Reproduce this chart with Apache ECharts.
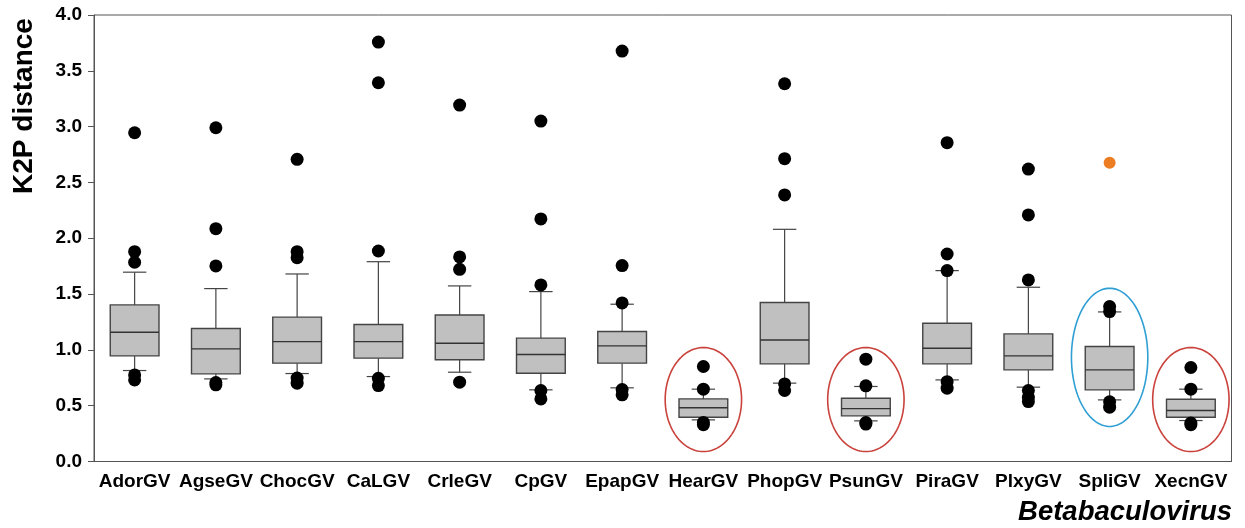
<!DOCTYPE html>
<html>
<head>
<meta charset="utf-8">
<script src="https://cdn.jsdelivr.net/npm/echarts@6/dist/echarts.min.js"></script>
<style>html,body{margin:0;padding:0;background:#fff}#c{width:1245px;height:528px}</style>
</head>
<body>
<div id="c"></div>
<script>
const categories = ['AdorGV','AgseGV','ChocGV','CaLGV','CrleGV','CpGV','EpapGV','HearGV','PhopGV','PsunGV','PiraGV','PlxyGV','SpliGV','XecnGV'];
const whiskerLow  = [0.815,0.740,0.788,0.761,0.800,0.642,0.660,0.373,0.702,0.364,0.731,0.666,0.552,0.367];
const q1          = [0.946,0.785,0.881,0.926,0.911,0.791,0.881,0.397,0.875,0.409,0.875,0.821,0.642,0.397];
const median      = [1.158,1.009,1.074,1.074,1.060,0.958,1.036,0.481,1.089,0.474,1.015,0.946,0.821,0.457];
const q3          = [1.403,1.191,1.293,1.227,1.313,1.105,1.164,0.561,1.424,0.567,1.239,1.143,1.030,0.558];
const whiskerHigh = [1.696,1.549,1.680,1.790,1.573,1.522,1.409,0.648,2.080,0.672,1.710,1.561,1.340,0.648];
const outliers = [
  [2.945,1.880,1.785,0.776,0.731],
  [2.990,2.086,1.752,0.707,0.687],
  [2.707,1.880,1.826,0.747,0.702],
  [3.757,3.393,1.886,0.745,0.680],
  [3.193,1.833,1.722,0.711],
  [3.050,2.173,1.582,0.635,0.561],
  [3.677,1.755,1.421,0.645,0.597],
  [0.851,0.648,0.350,0.329],
  [3.384,2.713,2.388,0.695,0.636],
  [0.917,0.678,0.349,0.335],
  [2.856,1.859,1.710,0.715,0.657],
  [2.620,2.209,1.627,0.636,0.575,0.537],
  [1.388,1.343,0.535,0.487],
  [0.842,0.648,0.344,0.330]
];
const highlightCategory = ['SpliGV'];
const highlightValue = [2.677];
const yTicks = ['0.0','0.5','1.0','1.5','2.0','2.5','3.0','3.5','4.0'];
// ellipse annotations: category, centre value, half-height (value units), half-width (category units), colour
const ellipseCats = ['HearGV','PsunGV','SpliGV','XecnGV'];
const ellipseCenter = [0.555,0.555,0.933,0.555];
const ellipseHalfH = [0.466,0.466,0.619,0.466];
const ellipseHalfW = [0.47,0.47,0.47,0.47];
const ellipseColor = ['#c9423c','#c9423c','#2f9fd4','#c9423c'];

const FONT = "'Liberation Sans', Arial, sans-serif";

const boxData = categories.map((c,i)=>[i, whiskerLow[i], q1[i], median[i], q3[i], whiskerHigh[i]]);
const outData = [];
categories.forEach((c,i)=>outliers[i].forEach(v=>outData.push([c,v])));
const hiData = highlightCategory.map((c,i)=>[c, highlightValue[i]]);
const ellData = ellipseCats.map((c,i)=>[categories.indexOf(c), ellipseCenter[i], ellipseHalfH[i], ellipseHalfW[i], i]);

const chart = echarts.init(document.getElementById('c'));
chart.setOption({
  animation:false,
  backgroundColor:'#fff',
  grid:{left:94,right:13.5,top:15,bottom:66.5,show:true,borderColor:'#555',borderWidth:1,backgroundColor:'transparent'},
  title:{text:'Betabaculovirus',right:8,bottom:-3,textStyle:{fontFamily:FONT,fontSize:27.5,fontWeight:'bold',fontStyle:'italic',color:'#000'}},
  graphic:[{type:'text',x:24,y:106,rotation:Math.PI/2,
    style:{text:'K2P distance',fontFamily:FONT,fontSize:28,fontWeight:'bold',fill:'#000',align:'center',verticalAlign:'middle'}}],
  xAxis:{type:'category',data:categories,boundaryGap:true,
    axisLine:{lineStyle:{color:'#555',width:1}},
    axisTick:{alignWithLabel:true,length:6,lineStyle:{color:'#555'}},
    axisLabel:{interval:0,fontFamily:FONT,fontSize:19,fontWeight:'bold',color:'#000',margin:11},
    splitLine:{show:false}},
  yAxis:{type:'value',min:0,max:4,interval:0.5,
    axisLine:{show:true,lineStyle:{color:'#555',width:1}},
    axisTick:{show:true,length:6,lineStyle:{color:'#555'}},
    axisLabel:{fontFamily:FONT,fontSize:19,fontWeight:'bold',color:'#000',margin:12,
      formatter:(v)=>yTicks[Math.round(v/0.5)]},
    splitLine:{show:false}},
  series:[
    {type:'custom',name:'box',data:boxData,z:2,
      renderItem:(params,api)=>{
        const x=api.value(0);
        const bw=api.size([1,0])[0]*0.6;
        const cw=bw*0.48;
        const pLo=api.coord([x,api.value(1)]);
        const p1=api.coord([x,api.value(2)]);
        const pm=api.coord([x,api.value(3)]);
        const p3=api.coord([x,api.value(4)]);
        const pHi=api.coord([x,api.value(5)]);
        const cx=pm[0];
        const ls={stroke:'#444',lineWidth:1.2};
        return {type:'group',children:[
          {type:'line',shape:{x1:cx,y1:pHi[1],x2:cx,y2:p3[1]},style:ls},
          {type:'line',shape:{x1:cx,y1:p1[1],x2:cx,y2:pLo[1]},style:ls},
          {type:'line',shape:{x1:cx-cw/2,y1:pHi[1],x2:cx+cw/2,y2:pHi[1]},style:ls},
          {type:'line',shape:{x1:cx-cw/2,y1:pLo[1],x2:cx+cw/2,y2:pLo[1]},style:ls},
          {type:'rect',shape:{x:cx-bw/2,y:p3[1],width:bw,height:p1[1]-p3[1]},style:{fill:'#c0c0c0',stroke:'#444',lineWidth:1.4}},
          {type:'line',shape:{x1:cx-bw/2,y1:pm[1],x2:cx+bw/2,y2:pm[1]},style:{stroke:'#333',lineWidth:1.4}}
        ]};
      }},
    {type:'scatter',name:'outliers',data:outData,symbol:'circle',symbolSize:13,itemStyle:{color:'#000',opacity:1},z:3},
    {type:'scatter',name:'highlight',data:hiData,symbol:'circle',symbolSize:12,itemStyle:{color:'#ed7d22',opacity:1},z:3},
    {type:'custom',name:'ellipses',data:ellData,z:4,clip:false,
      renderItem:(params,api)=>{
        const c=api.coord([api.value(0),api.value(1)]);
        const top=api.coord([api.value(0),api.value(1)+api.value(2)]);
        const ry=c[1]-top[1];
        const rx=api.size([1,0])[0]*api.value(3);
        const pts=[];
        for(let k=0;k<120;k++){const t=k/120*Math.PI*2;pts.push([c[0]+rx*Math.cos(t),c[1]+ry*Math.sin(t)]);}
        return {type:'polygon',shape:{points:pts},style:{fill:'none',stroke:ellipseColor[api.value(4)],lineWidth:1.6}};
      }}
  ]
});
</script>
</body>
</html>
